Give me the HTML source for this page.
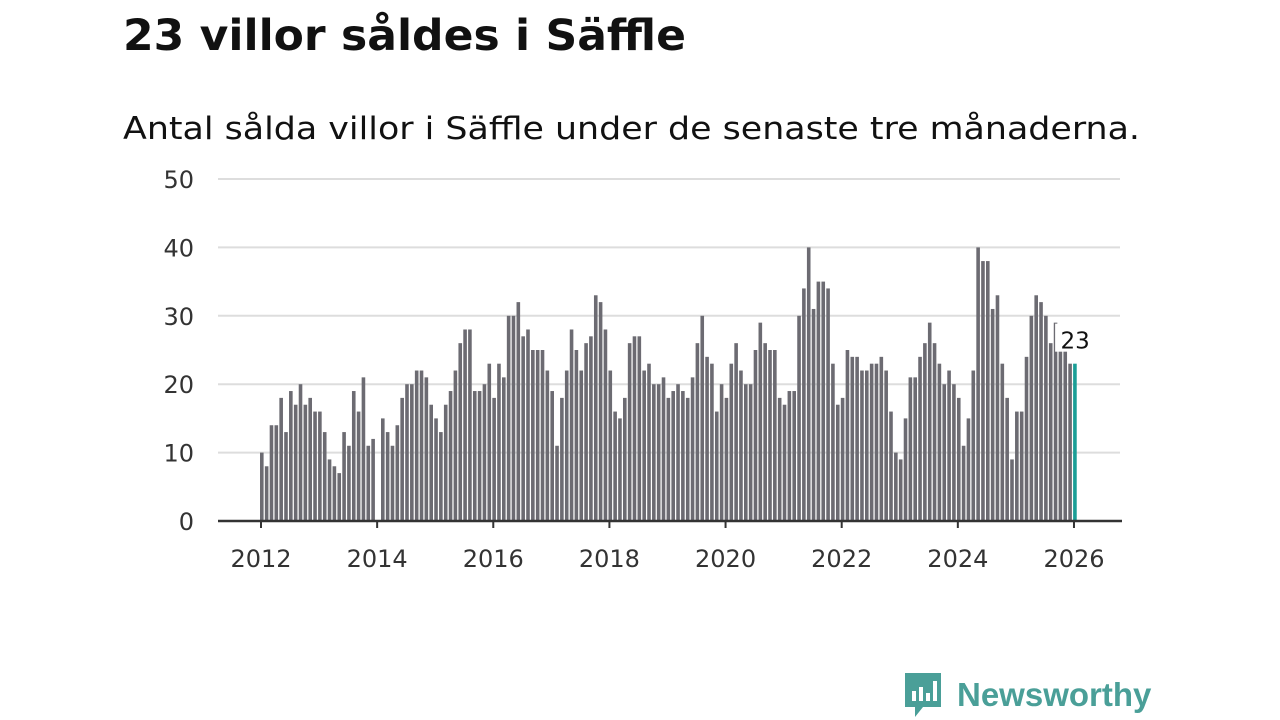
<!DOCTYPE html>
<html><head><meta charset="utf-8"><style>
body{margin:0;width:1280px;height:720px;background:#fff;font-family:"Liberation Sans",sans-serif;overflow:hidden;position:relative}
</style></head><body>
<svg id="c" width="1280" height="720" style="position:absolute;left:0;top:0">
<text x="123" y="50" font-family="DejaVu Sans, sans-serif" font-weight="bold" font-size="43" fill="#111" textLength="563" lengthAdjust="spacingAndGlyphs">23 villor såldes i Säffle</text>
<text x="123" y="139" font-family="DejaVu Sans, sans-serif" font-size="31" fill="#111" textLength="1017" lengthAdjust="spacingAndGlyphs">Antal sålda villor i Säffle under de senaste tre månaderna.</text>
</svg>
<div style="position:absolute;left:903px;top:671px;display:flex;align-items:center">
<svg width="40" height="48" viewBox="0 0 40 48"><path d="M2 2h36v34H20l-8 10v-10H2z" fill="#4a9f98"/><rect x="9" y="20" width="4" height="10" fill="#fff"/><rect x="16" y="16" width="4" height="14" fill="#fff"/><rect x="23" y="22" width="4" height="8" fill="#fff"/><rect x="30" y="10" width="4" height="20" fill="#fff"/></svg>
<span style="font-size:33px;font-weight:bold;color:#4a9f98;margin-left:14px">Newsworthy</span></div>
<script>
const values=[10,8,14,14,18,13,19,17,20,17,18,16,16,13,9,8,7,13,11,19,16,21,11,12,0,
15,13,11,14,18,20,20,22,22,21,17,15,13,17,19,22,26,28,28,19,19,20,23,18,23,21,30,30,32,27,
28,25,25,25,22,19,11,18,22,28,25,22,26,27,33,32,28,22,16,15,18,26,27,27,22,23,20,20,21,18,
19,20,19,18,21,26,30,24,23,16,20,18,23,26,22,20,20,25,29,26,25,25,18,17,19,19,30,34,40,
31,35,35,34,23,17,18,25,24,24,22,22,23,23,24,22,16,10,9,15,21,21,24,26,29,26,23,20,22,20,
18,11,15,22,40,38,38,31,33,23,18,9,16,16,24,30,33,32,30,26,29,25,25,23,23];
const yTicks=[0,10,20,30,40,50];
const xTicks=[2012,2014,2016,2018,2020,2022,2024,2026];
const NS="http://www.w3.org/2000/svg",svg=document.getElementById('c');
const y=v=>521-v*6.84, xm=i=>260+i*4.84, xy=yr=>261+(yr-2012)*58.07;
const TF="DejaVu Sans, sans-serif";
function mk(t,a){const e=document.createElementNS(NS,t);for(const k in a)e.setAttribute(k,a[k]);svg.appendChild(e);return e;}
yTicks.forEach(v=>{
 if(v>0){const l=mk('line',{x1:218,x2:1120,y1:y(v),y2:y(v),stroke:'#ddd','stroke-width':2});
 
 }
 const t=mk('text',{x:194,y:y(v)+9,'font-size':24,'font-family':TF,fill:'#333','text-anchor':'end'});t.textContent=v;
 
 
});
values.forEach((v,i)=>{
 const last=i===values.length-1;
 const r=mk('rect',{x:xm(i),y:y(v),width:3.6,height:v*6.84,fill:last?'#1a9e96':'#6c6b72'});
 
 
});
const ax=mk('line',{x1:218,x2:1122,y1:521,y2:521,stroke:'#333','stroke-width':2.5});


xTicks.forEach(yr=>{
 const tk=mk('line',{x1:xy(yr),x2:xy(yr),y1:521,y2:528,stroke:'#333','stroke-width':2});
 
 
 const t=mk('text',{x:xy(yr),y:567,'font-size':24,'font-family':TF,fill:'#333','text-anchor':'middle'});t.textContent=yr;
 
 
});
const li=values.length-1;
const bg=mk('rect',{x:xm(li)-18,y:y(values[li])-40,width:38,height:28,fill:'#fff'});


const lb=mk('text',{x:xm(li)+2,y:y(values[li])-15,'font-size':23,'font-family':TF,fill:'#111','text-anchor':'middle'});lb.textContent=values[li];


</script>
</body></html>
